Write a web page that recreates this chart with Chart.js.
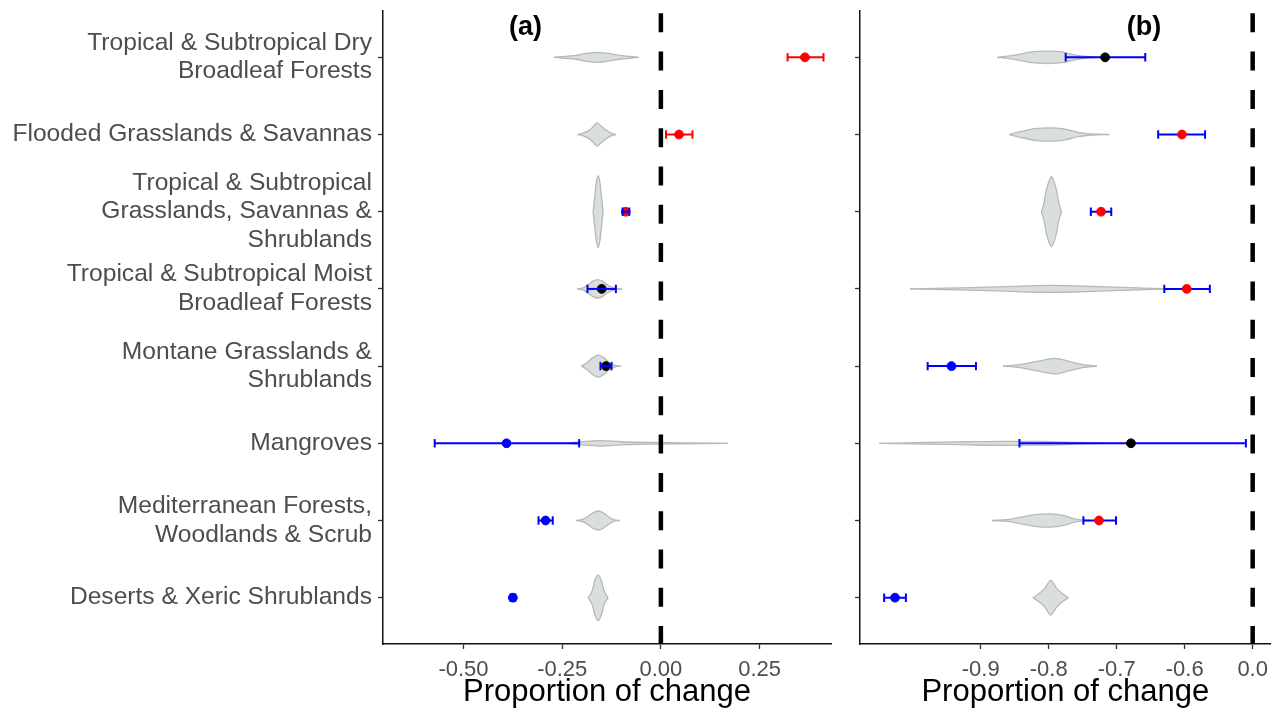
<!DOCTYPE html>
<html><head><meta charset="utf-8">
<script src="https://cdn.jsdelivr.net/npm/chart.js@4.4.1/dist/chart.umd.min.js"></script>
<style>
html,body{margin:0;padding:0;background:#fff;width:1284px;height:723px;overflow:hidden;}
#wa{position:absolute;left:0;top:0;width:845px;height:723px;}
#wb{position:absolute;left:845px;top:0;width:439px;height:723px;}
</style></head><body>
<div id="wa"><canvas id="ca" width="845" height="723"></canvas></div>
<div id="wb"><canvas id="cb" width="439" height="723"></canvas></div>
<script>
// ---------- DATA ----------
const categories = [
  ["Tropical & Subtropical Dry", "Broadleaf Forests"],
  "Flooded Grasslands & Savannas",
  ["Tropical & Subtropical", "Grasslands, Savannas &", "Shrublands"],
  ["Tropical & Subtropical Moist", "Broadleaf Forests"],
  ["Montane Grasslands &", "Shrublands"],
  "Mangroves",
  ["Mediterranean Forests,", "Woodlands & Scrub"],
  "Deserts & Xeric Shrublands"
];
const panelNames = ["(a)", "(b)"];
const axisTitle = "Proportion of change";

// Panel (a)
const tickValuesA = [-0.5, -0.25, 0, 0.25];
const tickLabelsA = ["-0.50", "-0.25", "0.00", "0.25"];
const zeroA = 0;
const estA  = [0.365, 0.046, -0.089, -0.150, -0.139, -0.391, -0.292, -0.375];
const lowA  = [0.321, 0.013, -0.097, -0.186, -0.153, -0.573, -0.310, -0.381];
const highA = [0.412, 0.080, -0.080, -0.114, -0.125, -0.207, -0.274, -0.369];
const pointSignA = ["pos", "pos", "pos", "ns", "ns", "neg", "neg", "neg"];
const barSignA   = ["pos", "pos", "neg", "neg", "neg", "neg", "neg", "neg"];
// violin profiles: x values and half-widths (in category units)
const violinXA = [
  [-0.271, -0.245, -0.215, -0.19, -0.163, -0.135, -0.105, -0.08, -0.056],
  [-0.211, -0.195, -0.18, -0.17, -0.162, -0.152, -0.14, -0.127, -0.114],
  [-0.1717, -0.1696, -0.1674, -0.1633, -0.159, -0.1547, -0.1506, -0.1484, -0.1463],
  [-0.212, -0.197, -0.185, -0.172, -0.160, -0.148, -0.135, -0.120, -0.098],
  [-0.201, -0.188, -0.175, -0.159, -0.145, -0.132, -0.118, -0.102],
  [-0.24, -0.2, -0.155, -0.1, -0.03, 0.05, 0.17],
  [-0.214, -0.2, -0.185, -0.172, -0.159, -0.146, -0.133, -0.12, -0.104],
  [-0.1843, -0.1737, -0.1674, -0.159, -0.1506, -0.1443, -0.1337]
];
const violinWA = [
  [0, 0.012, 0.025, 0.05, 0.065, 0.05, 0.025, 0.012, 0],
  [0, 0.02, 0.06, 0.11, 0.15, 0.11, 0.06, 0.02, 0],
  [0, 0.09, 0.207, 0.385, 0.466, 0.385, 0.207, 0.09, 0],
  [0, 0.015, 0.05, 0.1, 0.12, 0.1, 0.05, 0.015, 0],
  [0, 0.04, 0.1, 0.142, 0.11, 0.05, 0.012, 0],
  [0, 0.02, 0.035, 0.02, 0.01, 0.006, 0],
  [0, 0.012, 0.05, 0.1, 0.123, 0.1, 0.05, 0.012, 0],
  [0, 0.095, 0.22, 0.296, 0.22, 0.095, 0]
];

// Panel (b)
const tickValuesB = [-0.9, -0.8, -0.7, -0.6, -0.5];
const tickLabelsB = ["-0.9", "-0.8", "-0.7", "-0.6", "0.0"];
const zeroB = -0.5;
const estB  = [-0.717, -0.604, -0.723, -0.597, -0.943, -0.679, -0.726, -1.026];
const lowB  = [-0.775, -0.639, -0.738, -0.630, -0.978, -0.843, -0.749, -1.042];
const highB = [-0.658, -0.570, -0.708, -0.563, -0.907, -0.510, -0.701, -1.010];
const pointSignB = ["ns", "pos", "pos", "pos", "neg", "ns", "pos", "neg"];
const barSignB   = ["neg", "neg", "neg", "neg", "neg", "neg", "neg", "neg"];
const violinXB = [
  [-0.876, -0.86, -0.845, -0.825, -0.801, -0.78, -0.764, -0.745, -0.724],
  [-0.858, -0.84, -0.82, -0.798, -0.776, -0.755, -0.735, -0.711],
  [-0.8107, -0.807, -0.8034, -0.7997, -0.796, -0.7923, -0.7886, -0.785, -0.7813],
  [-1.004, -0.95, -0.876, -0.83, -0.798, -0.765, -0.715, -0.66, -0.622],
  [-0.867, -0.838, -0.815, -0.791, -0.77, -0.75, -0.729],
  [-1.049, -0.979, -0.92, -0.871, -0.813, -0.76, -0.713],
  [-0.883, -0.86, -0.842, -0.82, -0.798, -0.776, -0.762, -0.74],
  [-0.8232, -0.8146, -0.8058, -0.797, -0.7882, -0.7794, -0.7708]
];
const violinWB = [
  [0, 0.015, 0.035, 0.07, 0.08, 0.07, 0.035, 0.012, 0],
  [0, 0.04, 0.075, 0.086, 0.07, 0.025, 0.008, 0],
  [0, 0.109, 0.28, 0.39, 0.453, 0.39, 0.28, 0.109, 0],
  [0, 0.01, 0.025, 0.04, 0.045, 0.04, 0.025, 0.01, 0],
  [0, 0.025, 0.065, 0.101, 0.06, 0.02, 0],
  [0, 0.01, 0.02, 0.026, 0.024, 0.012, 0],
  [0, 0.012, 0.04, 0.075, 0.086, 0.06, 0.02, 0],
  [0, 0.05, 0.12, 0.224, 0.12, 0.05, 0]
];

// ---------- STYLE ----------
const FONT = '"Liberation Sans", Arial, Helvetica, sans-serif';
Chart.defaults.font.family = FONT;
const signColor = { pos: "#ff0000", neg: "#0000ff", ns: "#000000" };
const violinFill = "#dbdfdb";
const violinLine = "#b4bbb4";
const Y_MIN = 0.4, Y_MAX = 8.6;

function buildDatasets(est, low, high, pSign, bSign, vx, vw, zero, barsOnTop) {
  const ds = [];
  ds.push({
    type: "line", showLine: false, order: barsOnTop ? 2 : 1,
    data: est.map((v, i) => ({ x: v, y: i + 1 })),
    pointRadius: 4.4, pointHoverRadius: 4.4, pointBorderWidth: 1,
    pointBackgroundColor: pSign.map(s => signColor[s]),
    pointBorderColor: pSign.map(s => signColor[s])
  });
  low.forEach((lo, i) => {
    const c = signColor[bSign[i]];
    ds.push({
      type: "line", order: barsOnTop ? 1 : 2,
      data: [{ x: lo, y: i + 1 }, { x: high[i], y: i + 1 }],
      borderColor: c, borderWidth: 2, tension: 0, fill: false,
      pointStyle: "line", pointRotation: 90, pointRadius: 4.2, pointHoverRadius: 4.2,
      pointBorderColor: c, pointBorderWidth: 2
    });
  });
  ds.push({
    type: "line", order: 5,
    data: [{ x: zero, y: Y_MIN }, { x: zero, y: Y_MAX }],
    borderColor: "#000", borderWidth: 4.5, borderDash: [19, 19.3], borderDashOffset: 36,
    pointRadius: 0, fill: false, tension: 0
  });
  vx.forEach((xs, i) => {
    const ws = vw[i];
    const upIdx = ds.length;
    ds.push({
      type: "line", order: 10,
      data: xs.map((x, k) => ({ x: x, y: i + 1 - ws[k] })),
      borderColor: violinLine, borderWidth: 1.3, pointRadius: 0,
      cubicInterpolationMode: "monotone", fill: false
    });
    ds.push({
      type: "line", order: 10,
      data: xs.map((x, k) => ({ x: x, y: i + 1 + ws[k] })),
      borderColor: violinLine, borderWidth: 1.3, pointRadius: 0,
      cubicInterpolationMode: "monotone",
      fill: upIdx, backgroundColor: violinFill
    });
  });
  return ds;
}

function gridOpts() {
  return { display: true, drawOnChartArea: false, drawTicks: true, tickLength: 5, tickColor: "#333", tickWidth: 1.3 };
}

function makeChart(id, opts) {
  const labelPlugin = {
    id: "panelLabel",
    afterDraw(chart) {
      const { ctx, scales: { x, y } } = chart;
      ctx.save();
      ctx.font = "bold 27px " + FONT;
      ctx.fillStyle = "#000";
      ctx.textAlign = "center";
      ctx.textBaseline = "middle";
      ctx.fillText(opts.label, x.getPixelForValue(opts.labelX), y.getPixelForValue(0.62));
      ctx.restore();
    }
  };
  return new Chart(document.getElementById(id), {
    type: "line",
    data: { datasets: buildDatasets(opts.est, opts.low, opts.high, opts.pSign, opts.bSign, opts.vx, opts.vw, opts.zero, opts.barsOnTop) },
    plugins: [labelPlugin],
    options: {
      responsive: false, animation: false, devicePixelRatio: 1,
      layout: { padding: { top: 11, right: opts.padRight, left: 0, bottom: 0 } },
      plugins: { legend: { display: false }, tooltip: { enabled: false } },
      scales: {
        x: {
          type: "linear", min: opts.xmin, max: opts.xmax,
          afterBuildTicks: s => { s.ticks = opts.tickValues.map(v => ({ value: v })); },
          afterFit: s => { s.height = 79; s.paddingLeft = 0; s.paddingRight = 0; },
          ticks: { callback: (v, i) => opts.tickLabels[i], color: "#4d4d4d", font: { size: 22 }, padding: 8, maxRotation: 0, autoSkip: false },
          grid: gridOpts(),
          border: { display: true, color: "#111", width: 1.5 },
          title: { display: true, text: axisTitle, color: "#000", font: { size: 31 }, padding: { top: 0, bottom: 12 } }
        },
        y: {
          type: "linear", min: Y_MIN, max: Y_MAX, reverse: true,
          afterBuildTicks: s => { s.ticks = categories.map((c, i) => ({ value: i + 1 })); },
          afterFit: s => { s.width = opts.yWidth; s.paddingTop = 0; s.paddingBottom = 0; },
          ticks: { callback: (v, i) => opts.showCats ? categories[i] : "", color: "#4d4d4d", font: { size: 24.6, lineHeight: 1.16 }, padding: 6, autoSkip: false },
          grid: gridOpts(),
          border: { display: true, color: "#111", width: 1.5 }
        }
      }
    }
  });
}

makeChart("ca", {
  est: estA, low: lowA, high: highA, pSign: pointSignA, bSign: barSignA, vx: violinXA, vw: violinWA,
  zero: zeroA, barsOnTop: true, xmin: -0.704, xmax: 0.431, tickValues: tickValuesA, tickLabels: tickLabelsA,
  yWidth: 383, padRight: 14, showCats: true, label: panelNames[0], labelX: -0.343
});
makeChart("cb", {
  est: estB, low: lowB, high: highB, pSign: pointSignB, bSign: barSignB, vx: violinXB, vw: violinWB,
  zero: zeroB, barsOnTop: false, xmin: -1.0775, xmax: -0.4735, tickValues: tickValuesB, tickLabels: tickLabelsB,
  yWidth: 15, padRight: 13.3, showCats: false, label: panelNames[1], labelX: -0.66
});
</script>
</body></html>
